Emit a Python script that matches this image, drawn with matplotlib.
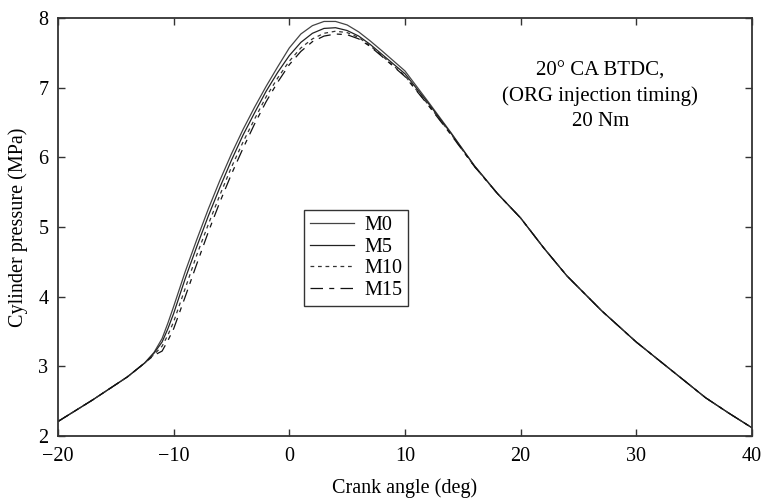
import numpy as np
import matplotlib.pyplot as plt

plt.rcParams['font.family'] = ['Liberation Serif', 'DejaVu Serif']

# Crank angle (deg)
angle = [-20, -17, -14, -12.5, -11.7, -11, -10.5, -10, -9, -8, -7, -6, -5, -4, -3,
         -2, -1, 0, 1, 2, 3, 4, 5, 6, 7, 8, 10, 12, 14, 16, 18, 20, 22, 24, 27,
         30, 33, 36, 38, 40]

# Cylinder pressure (MPa)
m0 = [2.21, 2.52, 2.85, 3.05, 3.20, 3.40, 3.62, 3.86, 4.36, 4.82, 5.26, 5.67, 6.05, 6.40, 6.72,
      7.02, 7.30, 7.57, 7.77, 7.89, 7.95, 7.95, 7.90, 7.80, 7.67, 7.53, 7.24, 6.80, 6.35, 5.88, 5.48, 5.13, 4.70, 4.30, 3.80,
      3.35, 2.95, 2.55, 2.33, 2.12]
m5 = [2.21, 2.52, 2.85, 3.05, 3.19, 3.35, 3.54, 3.76, 4.26, 4.72, 5.16, 5.57, 5.96, 6.32, 6.64,
      6.95, 7.22, 7.46, 7.65, 7.78, 7.85, 7.86, 7.82, 7.74, 7.62, 7.48, 7.20, 6.78, 6.34, 5.88, 5.48, 5.13, 4.70, 4.30, 3.80,
      3.35, 2.95, 2.55, 2.33, 2.12]
m10 = [2.21, 2.52, 2.85, 3.05, 3.17, 3.29, 3.45, 3.64, 4.12, 4.60, 5.04, 5.46, 5.86, 6.22, 6.55,
       6.87, 7.14, 7.38, 7.57, 7.70, 7.78, 7.81, 7.79, 7.72, 7.60, 7.46, 7.17, 6.76, 6.33, 5.87, 5.48, 5.13, 4.70, 4.30, 3.80,
       3.35, 2.95, 2.55, 2.33, 2.12]
m15 = [2.21, 2.52, 2.85, 3.05, 3.16, 3.22, 3.37, 3.54, 4.00, 4.47, 4.93, 5.36, 5.76, 6.13, 6.48,
       6.80, 7.08, 7.33, 7.52, 7.66, 7.74, 7.77, 7.76, 7.70, 7.59, 7.45, 7.16, 6.75, 6.32, 5.87, 5.48, 5.13, 4.70, 4.30, 3.80,
       3.35, 2.95, 2.55, 2.33, 2.12]

fig = plt.figure(figsize=(7.64, 4.99), dpi=100)
ax = fig.add_axes([0.0759, 0.126, 0.9083, 0.838])

ax.plot(angle, m0, color='#444444', lw=0.9, ls='-', label='M0')
ax.plot(angle, m5, color='#222222', lw=0.9, ls='-', label='M5')
ax.plot(angle, m10, color='#333333', lw=0.9, ls=(0, (3, 3)), label='M10')
ax.plot(angle, m15, color='#111111', lw=0.9, ls=(0, (10, 5, 4, 5)), label='M15')

ax.set_xlim(-20, 40)
ax.set_ylim(2, 8)
ax.set_xticks([-20, -10, 0, 10, 20, 30, 40])
ax.set_xticklabels(['\u221220', '\u221210', '0', '10', '20', '30', '40'])
ax.set_yticks([2, 3, 4, 5, 6, 7, 8])
ax.tick_params(direction='in', length=5, width=1, top=True, right=True,
               labelsize=14.5, color='#333333')
ax.tick_params(axis='x', pad=8)
ax.tick_params(axis='y', pad=7)
for s in ax.spines.values():
    s.set_linewidth(1.3)
    s.set_color('#333333')

ax.set_xlabel('Crank angle (deg)', fontsize=14.5, labelpad=9)
ax.set_ylabel('Cylinder pressure (MPa)', fontsize=14.5, labelpad=7)

ax.text(26.9, 6.88, '20\u00b0 CA BTDC,\n(ORG injection timing)\n20 Nm',
        ha='center', va='center', fontsize=15, linespacing=1.4)

leg = ax.legend(loc='upper left', bbox_to_anchor=(0.354, 0.541), fontsize=14.5,
                frameon=True, fancybox=False, borderaxespad=0, handlelength=2.2,
                labelspacing=0.12, borderpad=0.3, handletextpad=0.5)
leg.get_frame().set_edgecolor('black')
leg.get_frame().set_linewidth(1.0)

fig.savefig('out.png', dpi=100)
